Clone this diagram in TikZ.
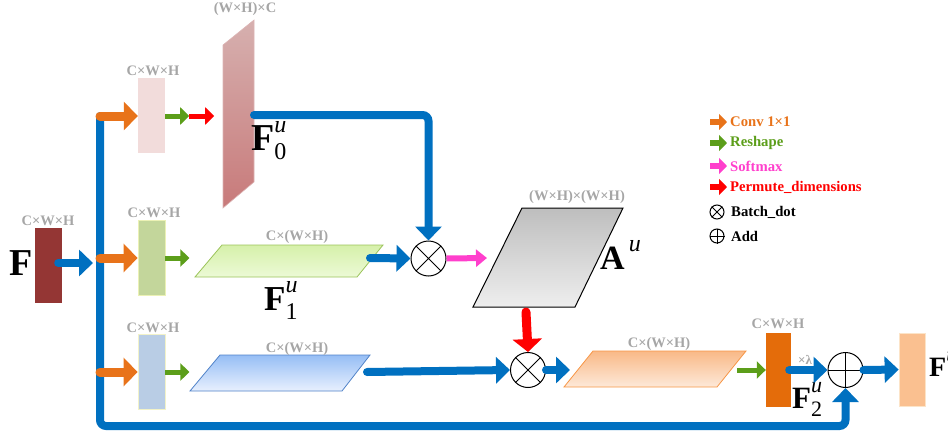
\documentclass[tikz,border=0pt]{standalone}
\usepackage{fontspec}
\setmainfont{Liberation Serif}
\usetikzlibrary{arrows.meta}
\definecolor{bblue}{HTML}{0070C0}
\definecolor{borange}{HTML}{E8731A}
\definecolor{bgreen}{HTML}{5C9E1A}
\definecolor{bmag}{HTML}{FF3FCC}
\definecolor{bred}{HTML}{FF0000}
\definecolor{lgray}{HTML}{A6A6A6}
\definecolor{cFblk}{HTML}{943634}
\definecolor{cb1}{HTML}{F2DCDB}
\definecolor{cb2}{HTML}{C3D69B}
\definecolor{cb2d}{HTML}{EBF1B5}
\definecolor{cb3}{HTML}{B9CDE5}
\definecolor{cb3d}{HTML}{F2F2C8}
\definecolor{cob}{HTML}{E46C0A}
\definecolor{cfin}{HTML}{FAC090}
\definecolor{cfind}{HTML}{FCE4C8}
\definecolor{p0t}{RGB}{214,176,175}
\definecolor{p0b}{RGB}{200,122,122}
\definecolor{p0d}{RGB}{220,180,180}
\definecolor{p1t}{RGB}{214,240,170}
\definecolor{p1b}{RGB}{236,250,214}
\definecolor{p1d}{RGB}{155,195,90}
\definecolor{pAt}{RGB}{190,190,190}
\definecolor{pAb}{RGB}{238,238,238}
\definecolor{p2t}{RGB}{150,190,245}
\definecolor{p2b}{RGB}{232,240,254}
\definecolor{p2d}{RGB}{80,130,200}
\definecolor{p3t}{RGB}{249,185,135}
\definecolor{p3b}{RGB}{253,233,217}
\definecolor{p3d}{RGB}{247,150,70}
\newcommand{\tlab}[5]{{\fontsize{#1}{#1}\selectfont\textbf{#2}}{\fontsize{#5}{#5}\selectfont\rlap{\raisebox{0.72em}{\textit{#3}}}\raisebox{-0.4em}{#4}}}
\tikzset{
  bluearr/.style={draw=bblue, line width=8pt, line cap=round, -{Triangle[length=14pt,width=26pt]}},
  orangearr/.style={draw=borange, line width=9pt, line cap=round, -{Triangle[length=14pt,width=28pt]}},
  greenarr/.style={draw=bgreen, line width=5pt, -{Triangle[length=9pt,width=17pt]}},
  redarr/.style={draw=bred, line width=5pt, -{Triangle[length=9pt,width=17pt]}},
  bigredarr/.style={draw=bred, line width=9pt, line cap=round, -{Triangle[length=13pt,width=29pt]}},
  magarr/.style={draw=bmag, line width=6pt, -{Triangle[length=11pt,width=17pt]}},
  legarr/.style={line width=6pt, -{Triangle[length=8pt,width=16pt]}},
  blk/.style={inner sep=0pt, minimum width=27pt, minimum height=75pt},
  dimlab/.style={text=lgray, font=\fontsize{14.5}{15}\selectfont\bfseries, inner sep=0pt},
  legtext/.style={font=\fontsize{14.7}{15}\selectfont\bfseries, anchor=west, inner sep=0pt},
  opcirc/.style={circle, draw=black, line width=1pt, minimum size=35pt, inner sep=0pt},
  legcirc/.style={circle, draw=black, line width=1pt, minimum size=14pt, inner sep=0pt},
}
\begin{document}
\begin{tikzpicture}[x=1pt,y=-1pt]
\useasboundingbox (0,0) rectangle (948,434);
% blocks
\node[blk, fill=cFblk] (Fblk) at (48.5,265) {};
\node[dimlab] (FblkL) at (48,221) {C×W×H};
\node[anchor=base west, inner sep=0pt] (Flab) at (9,275) {\fontsize{38}{38}\selectfont\textbf{F}};
\node[blk, fill=cb1] (b1) at (151.5,115.5) {};
\node[dimlab] (b1L) at (153,71) {C×W×H};
\node[blk, fill=cb2, draw=cb2d, line width=0.8pt] (b2) at (151.5,258) {};
\node[dimlab] (b2L) at (154,213) {C×W×H};
\node[blk, fill=cb3, draw=cb3d, line width=0.8pt] (b3) at (151.5,371.5) {};
\node[dimlab] (b3L) at (153,328) {C×W×H};
\node[blk, minimum width=25pt, minimum height=74pt, fill=cob] (ob) at (778.5,370) {};
\node[dimlab] (obL) at (778,324) {C×W×H};
\node[blk, minimum width=26pt, minimum height=73pt, fill=cfin, draw=cfind, line width=0.8pt] (fin) at (912,369.5) {};
% parallelograms
\shade[top color=p0t, bottom color=p0b, draw=p0d, line width=0.6pt] (223,45) -- (254,20) -- (254,182) -- (223,208) -- cycle;
\node[dimlab] (p0L) at (245,9) {(W×H)×C};
\coordinate (p0e) at (254,115);
\node[anchor=base west, inner sep=0pt] (p0lab) at (251,150) {\tlab{38}{F}{u}{0}{24}};
\shade[top color=p1t, bottom color=p1b, draw=p1d, line width=0.8pt] (222,245) -- (383,245) -- (357,277) -- (195,277) -- cycle;
\node[dimlab] (p1L) at (297,237) {C×(W×H)};
\coordinate (p1e) at (370,258);
\node[anchor=base west, inner sep=0pt] (p1lab) at (264,310) {\tlab{35}{F}{u}{1}{24}};
\shade[top color=pAt, bottom color=pAb, draw=black, line width=1pt] (522,208) -- (623,208) -- (575,307) -- (473,307) -- cycle;
\node[dimlab] (AL) at (577,197) {(W×H)×(W×H)};
\coordinate (Aw) at (487,258);
\coordinate (As) at (526,312);
\node[anchor=base west, inner sep=0pt] (Alab) at (600,269) {\tlab{34}{A}{\,u}{}{24}};
\shade[top color=p2t, bottom color=p2b, draw=p2d, line width=0.8pt] (220,355) -- (370,355) -- (342,391) -- (190,391) -- cycle;
\node[dimlab] (p2L) at (297,349) {C×(W×H)};
\coordinate (p2e) at (367,372);
\shade[top color=p3t, bottom color=p3b, draw=p3d, line width=0.8pt] (593,351) -- (746,351) -- (717,387) -- (564,387) -- cycle;
\node[dimlab] (p3L) at (659,344) {C×(W×H)};
\coordinate (p3w) at (570,370);
\coordinate (p3e) at (737,370);
\node[anchor=base west, inner sep=0pt] (p2lab) at (792,408) {\tlab{31}{F}{u}{2}{22}};
\node[text=lgray, font=\fontsize{13}{13}\selectfont\bfseries, inner sep=0pt] (lam) at (805,360) {×λ};
\node[anchor=base west, inner sep=0pt] (finlab) at (929,376) {\tlab{28}{F}{u}{}{20}};
% operators
\node[opcirc] (m1) at (428.5,258.5) {};
\draw[line width=1pt] (m1.north west) -- (m1.south east) (m1.north east) -- (m1.south west);
\node[opcirc] (m2) at (528,370) {};
\draw[line width=1pt] (m2.north west) -- (m2.south east) (m2.north east) -- (m2.south west);
\node[opcirc] (pl) at (845.5,370) {};
\draw[line width=1pt] (pl.north) -- (pl.south) (pl.west) -- (pl.east);
% bus
\coordinate (bt) at (100,116);
\coordinate (bm) at (100,258);
\coordinate (bb) at (100,372);
\coordinate (bF) at (93,263);
\draw[bluearr, rounded corners=6pt] (bt) -- (100,426) -| (pl.south);
\draw[bluearr] ([xshift=-4pt]Fblk.east |- bF) -- (bF);
\draw[orangearr] (bt) -- (b1.west |- bt);
\draw[orangearr] (bm) -- (b2.west);
\draw[orangearr] (bb) -- (b3.west |- bb);
\draw[greenarr] (b1.east |- bt) -- ++(24,0) coordinate (g1);
\draw[redarr] (g1) -- ++(25,0);
\draw[greenarr] (b2.east) -- ++(24,0);
\draw[greenarr] (b3.east |- bb) -- ++(24,0);
\draw[bluearr, rounded corners=6pt] (p0e) -| (m1.north);
\draw[bluearr] (p1e) -- (m1.west);
\draw[magarr] (m1.east) -- (Aw);
\draw[bigredarr] (As) -- (m2.north);
\draw[bluearr] (p2e) -- (m2.west);
\draw[bluearr] (m2.east) -- (p3w);
\draw[greenarr] (p3e) -- (ob.west);
\draw[bluearr] ([xshift=-2pt]ob.east) -- (pl.west);
\draw[bluearr] (pl.east) -- (fin.west);
% legend
\coordinate (l1) at (710,122);
\draw[legarr, draw=borange] (l1) -- ++(17,0);
\node[legtext, text=borange] (t1) at (730,122) {Conv 1×1};
\coordinate (l2) at (710,143);
\draw[legarr, draw=bgreen] (l2) -- ++(17,0);
\node[legtext, text=bgreen] (t2) at (730,143) {Reshape};
\coordinate (l3) at (710,166);
\draw[legarr, draw=bmag] (l3) -- ++(17,0);
\node[legtext, text=bmag] (t3) at (730,166) {Softmax};
\coordinate (l4) at (710,187);
\draw[legarr, draw=bred] (l4) -- ++(17,0);
\node[legtext, text=bred] (t4) at (730,187) {Permute\_dimensions};
\node[legcirc] (c5) at (717,212) {};
\draw[line width=1pt] (c5.north west) -- (c5.south east) (c5.north east) -- (c5.south west);
\node[legtext] (t5) at (731,212) {Batch\_dot};
\node[legcirc] (c6) at (717,236) {};
\draw[line width=1pt] (c6.north) -- (c6.south) (c6.west) -- (c6.east);
\node[legtext] (t6) at (731,236) {Add};
\end{tikzpicture}
\end{document}
